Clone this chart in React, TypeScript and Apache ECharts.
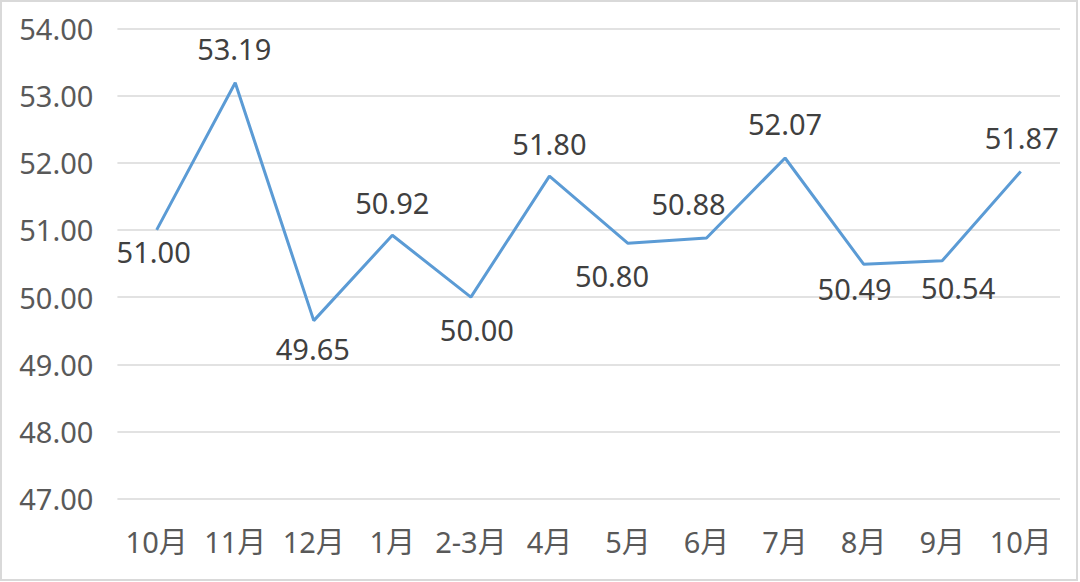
import React, { useEffect, useRef } from "react";
import * as echarts from "echarts";

const categories = ["10月", "11月", "12月", "1月", "2-3月", "4月", "5月", "6月", "7月", "8月", "9月", "10月"];
const values = [51.0, 53.19, 49.65, 50.92, 50.0, 51.8, 50.8, 50.88, 52.07, 50.49, 50.54, 51.87];
const labelOffsets: [number, number][] = [
  [-3, 22], [-1, -34], [-1, 28], [0, -33], [6, 32], [0, -33],
  [-16, 32], [-18, -34], [0, -34], [-9, 24], [16, 27], [1, -34],
];
const yMin = 47;
const yMax = 54;
const yInterval = 1;

const FONT = "'Noto Sans', 'Noto Sans CJK SC', sans-serif";

export default function App() {
  const ref = useRef<HTMLDivElement>(null);
  useEffect(() => {
    document.body.style.margin = "0";
    if (!ref.current) return;
    const chart = echarts.init(ref.current, undefined, { renderer: "svg" });
    chart.setOption({
      animation: false,
      backgroundColor: "#ffffff",
      textStyle: { fontFamily: FONT },
      graphic: [
        {
          type: "rect",
          shape: { x: 1, y: 1, width: 1076, height: 579 },
          style: { fill: "none", stroke: "#d9d9d9", lineWidth: 2 },
          silent: true,
        },
      ],
      grid: { left: 117.4, right: 20, top: 28.3, bottom: 83.3, containLabel: false },
      xAxis: {
        type: "category",
        data: categories,
        boundaryGap: true,
        axisLine: { show: false },
        axisTick: { show: false },
        axisLabel: { color: "#595959", fontSize: 29, fontFamily: FONT, margin: 28, interval: 0 },
      },
      yAxis: {
        type: "value",
        min: yMin,
        max: yMax,
        interval: yInterval,
        axisLine: { show: false },
        axisTick: { show: false },
        axisLabel: {
          color: "#595959",
          fontSize: 29,
          fontFamily: FONT,
          margin: 24,
          formatter: (v: number) => v.toFixed(2),
        },
        splitLine: { lineStyle: { color: "#d9d9d9", width: 1.5 } },
      },
      series: [
        {
          type: "line",
          data: values.map((v, i) => ({
            value: v,
            label: {
              show: true,
              position: "inside",
              align: "center",
              verticalAlign: "middle",
              offset: labelOffsets[i],
              formatter: (p: any) => Number(p.value).toFixed(2),
              color: "#404040",
              fontSize: 29,
              fontFamily: FONT,
            },
          })),
          symbol: "circle",
          symbolSize: 0.1,
          showSymbol: true,
          itemStyle: { color: "#5b9bd5" },
          lineStyle: { color: "#5b9bd5", width: 3 },
        },
      ],
    });
    return () => chart.dispose();
  }, []);
  return (
    <div
      ref={ref}
      style={{ position: "absolute", left: 0, top: 0, width: 1080, height: 582 }}
    />
  );
}
